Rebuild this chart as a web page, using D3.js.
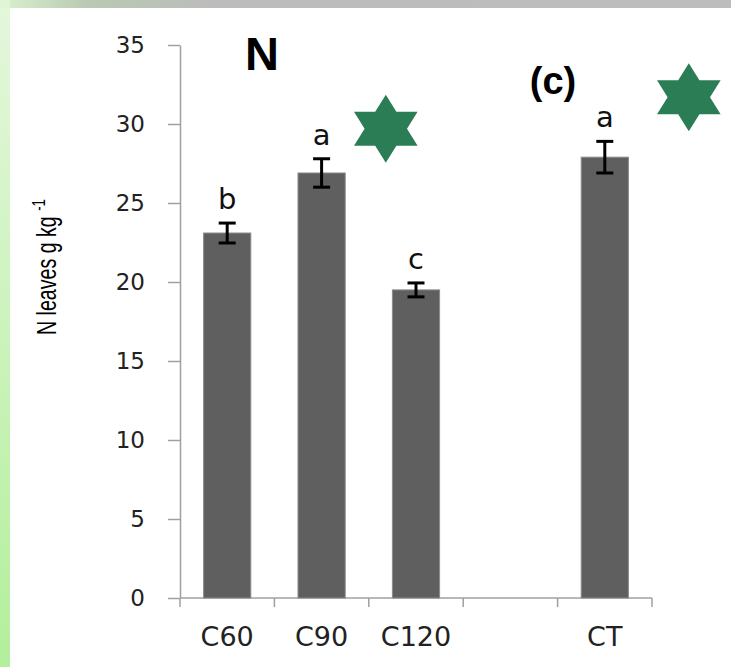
<!DOCTYPE html>
<html>
<head>
<meta charset="utf-8">
<script src="https://cdn.jsdelivr.net/npm/d3@7"></script>
<style>
  body { margin: 0; background: #fff; }
  svg { display: block; }
</style>
</head>
<body>
<div id="chart"></div>
<script>
// Chart data
var categories = ["C60", "C90", "C120", "", "CT"];
var values = [23.1, 26.9, 19.5, null, 27.9];
var errors = [0.63, 0.9, 0.44, null, 1.0];
var letters = ["b", "a", "c", "", "a"];
var yTicks = [0, 5, 10, 15, 20, 25, 30, 35];
// stars marking significance: position along the category axis and in value units
var starCat = [2.18, 5.39];
var starVal = [29.7, 31.7];

var width = 731,
    height = 667;

var margin = { left: 180, right: 79, top: 45, bottom: 69 };

var svg = d3.select("#chart").append("svg")
    .attr("width", width)
    .attr("height", height);

// Frame gradients
var defs = svg.append("defs");
var gTop = defs.append("linearGradient").attr("id", "topGrad")
    .attr("x1", 0).attr("x2", 1).attr("y1", 0).attr("y2", 0);
gTop.append("stop").attr("offset", "0%").attr("stop-color", "#d9f2cf");
gTop.append("stop").attr("offset", "12%").attr("stop-color", "#b9c9b2");
gTop.append("stop").attr("offset", "30%").attr("stop-color", "#bcbcbc");
gTop.append("stop").attr("offset", "100%").attr("stop-color", "#bdbdbd");

var gLeft = defs.append("linearGradient").attr("id", "leftGrad")
    .attr("x1", 0).attr("x2", 0).attr("y1", 0).attr("y2", 1);
gLeft.append("stop").attr("offset", "0%").attr("stop-color", "#e4f7dc");
gLeft.append("stop").attr("offset", "100%").attr("stop-color", "#b3ef9c");

svg.append("rect").attr("x", 0).attr("y", 0).attr("width", 10).attr("height", height)
    .attr("fill", "url(#leftGrad)");
svg.append("rect").attr("x", 0).attr("y", 0).attr("width", width).attr("height", 8)
    .attr("fill", "url(#topGrad)");
svg.append("rect").attr("x", 0).attr("y", 0).attr("width", 10).attr("height", 8)
    .attr("fill", "#dff5d6");

// Scales
var x = d3.scaleBand()
    .domain(d3.range(categories.length))
    .range([margin.left, width - margin.right])
    .paddingInner(0.5)
    .paddingOuter(0.25);

var xEdges = d3.scaleLinear()
    .domain([0, categories.length])
    .range([margin.left, width - margin.right]);

var y = d3.scaleLinear()
    .domain([0, 35])
    .range([height - margin.bottom, margin.top]);

var axisColor = "#a0a0a0";
var tickFont = "'DejaVu Sans', Verdana, sans-serif";

// Y axis
var yAxis = svg.append("g")
    .attr("transform", "translate(" + margin.left + ",0)")
    .call(d3.axisLeft(y).tickValues(yTicks).tickSize(12).tickPadding(23).tickSizeOuter(0));
yAxis.select(".domain").attr("stroke", axisColor).attr("stroke-width", 1.5);
yAxis.selectAll(".tick line").attr("stroke", axisColor).attr("stroke-width", 1.5);
yAxis.selectAll(".tick text")
    .attr("font-family", tickFont)
    .attr("font-size", 23)
    .attr("fill", "#222");

// X axis line and tick marks between categories
var base = y(0);
svg.append("line")
    .attr("x1", margin.left).attr("x2", width - margin.right)
    .attr("y1", base).attr("y2", base)
    .attr("stroke", axisColor).attr("stroke-width", 1.5);
svg.selectAll("line.xtick")
    .data(d3.range(categories.length + 1))
  .enter().append("line")
    .attr("class", "xtick")
    .attr("x1", function(d) { return xEdges(d); })
    .attr("x2", function(d) { return xEdges(d); })
    .attr("y1", base)
    .attr("y2", base + 9)
    .attr("stroke", axisColor).attr("stroke-width", 1.5);

svg.selectAll("text.cat")
    .data(categories)
  .enter().append("text")
    .attr("class", "cat")
    .attr("x", function(d, i) { return x(i) + x.bandwidth() / 2; })
    .attr("y", base + 48)
    .attr("text-anchor", "middle")
    .attr("font-family", tickFont)
    .attr("font-size", 27)
    .attr("fill", "#222")
    .text(function(d) { return d; });

// Bars
var idx = d3.range(categories.length).filter(function(i) { return values[i] != null; });

svg.selectAll("rect.bar")
    .data(idx)
  .enter().append("rect")
    .attr("class", "bar")
    .attr("x", function(i) { return x(i); })
    .attr("width", x.bandwidth())
    .attr("y", function(i) { return y(values[i]); })
    .attr("height", function(i) { return base - y(values[i]); })
    .attr("fill", "#5f5f5f")
    .attr("stroke", "#8a8a8a")
    .attr("stroke-width", 1);

// Error bars
var cap = 8.5;
var eb = svg.selectAll("g.err")
    .data(idx)
  .enter().append("g")
    .attr("class", "err")
    .attr("stroke", "#000")
    .attr("stroke-width", 3);
eb.append("line")
    .attr("x1", function(i) { return x(i) + x.bandwidth() / 2; })
    .attr("x2", function(i) { return x(i) + x.bandwidth() / 2; })
    .attr("y1", function(i) { return y(values[i] + errors[i]); })
    .attr("y2", function(i) { return y(values[i] - errors[i]); });
eb.append("line")
    .attr("x1", function(i) { return x(i) + x.bandwidth() / 2 - cap; })
    .attr("x2", function(i) { return x(i) + x.bandwidth() / 2 + cap; })
    .attr("y1", function(i) { return y(values[i] + errors[i]); })
    .attr("y2", function(i) { return y(values[i] + errors[i]); });
eb.append("line")
    .attr("x1", function(i) { return x(i) + x.bandwidth() / 2 - cap; })
    .attr("x2", function(i) { return x(i) + x.bandwidth() / 2 + cap; })
    .attr("y1", function(i) { return y(values[i] - errors[i]); })
    .attr("y2", function(i) { return y(values[i] - errors[i]); });

// Significance letters
svg.selectAll("text.letter")
    .data(idx)
  .enter().append("text")
    .attr("class", "letter")
    .attr("x", function(i) { return x(i) + x.bandwidth() / 2; })
    .attr("y", function(i) { return y(values[i] + errors[i]) - 14; })
    .attr("text-anchor", "middle")
    .attr("font-family", tickFont)
    .attr("font-size", 29)
    .attr("fill", "#111")
    .text(function(i) { return letters[i]; });

// Six-pointed stars
function hexagram(r) {
  var tri = function(offset) {
    return d3.range(3).map(function(k) {
      var a = offset + k * 2 * Math.PI / 3;
      return [r * Math.sin(a), -r * Math.cos(a)];
    });
  };
  var line = d3.line().curve(d3.curveLinearClosed);
  return line(tri(0)) + line(tri(Math.PI));
}
svg.selectAll("path.star")
    .data(d3.range(starCat.length))
  .enter().append("path")
    .attr("class", "star")
    .attr("transform", function(j) {
      return "translate(" + xEdges(starCat[j]) + "," + y(starVal[j]) + ") scale(1.08,1)";
    })
    .attr("d", hexagram(34))
    .attr("fill", "#2a7d55");

// Panel titles
svg.append("text")
    .attr("x", 262).attr("y", 70)
    .attr("text-anchor", "middle")
    .attr("font-family", "'Liberation Sans Narrow', 'Arial Narrow', sans-serif")
    .attr("font-weight", "bold")
    .attr("font-size", 47)
    .text("N");

svg.append("text")
    .attr("x", 553).attr("y", 94)
    .attr("text-anchor", "middle")
    .attr("font-family", "'Liberation Sans', Arial, sans-serif")
    .attr("font-weight", "bold")
    .attr("font-size", 38)
    .text("(c)");

// Y axis title (condensed to mimic the narrow original face)
var yTitle = svg.append("text")
    .attr("transform", "translate(56," + 267 + ") rotate(-90) scale(0.7,1)")
    .attr("text-anchor", "middle")
    .attr("font-family", "'Liberation Sans', Arial, sans-serif")
    .attr("font-size", 28)
    .attr("fill", "#000");
yTitle.append("tspan").text("N leaves g kg ");
yTitle.append("tspan").attr("dy", -11).attr("font-size", 19).text("-1");
</script>
</body>
</html>
